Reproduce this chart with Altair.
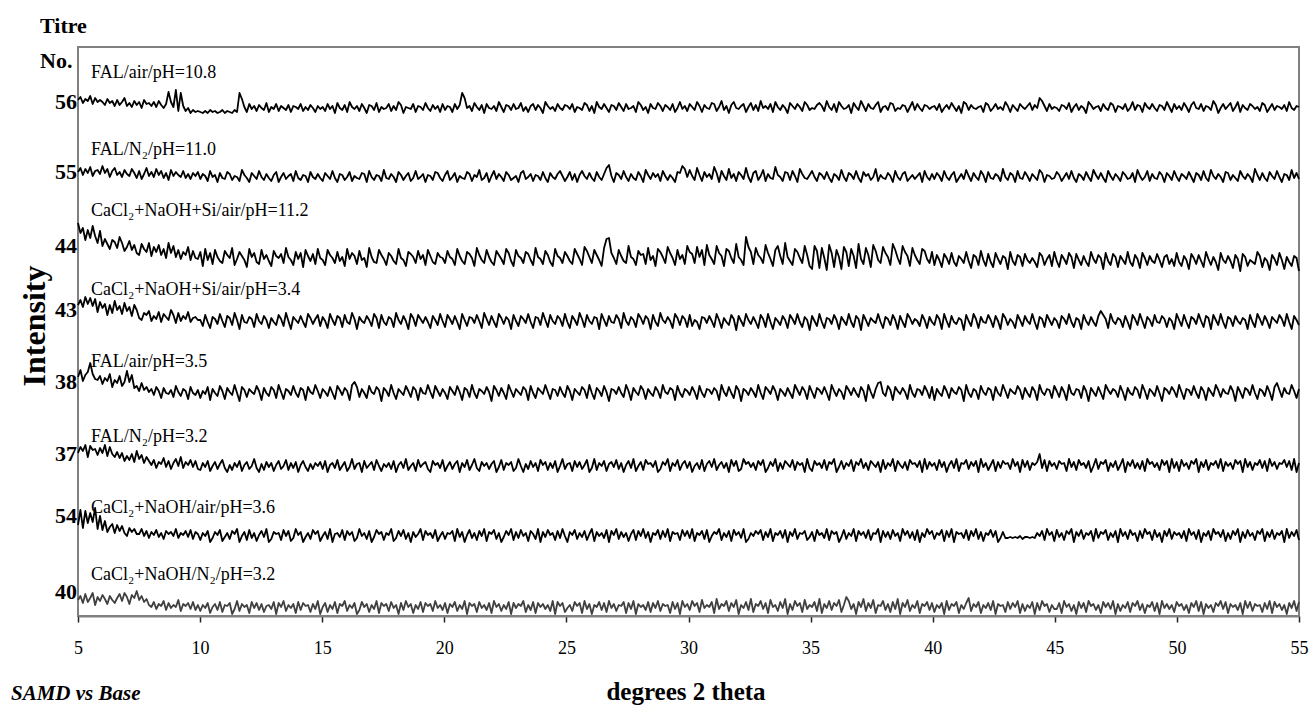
import altair as alt
import pandas as pd

# ---------------- data ----------------
titres = ["56", "55", "44", "43", "38", "37", "54", "40"]
conditions = [
    "FAL/air/pH=10.8",
    "FAL/N\u2082/pH=11.0",
    "CaCl\u2082+NaOH+Si/air/pH=11.2",
    "CaCl\u2082+NaOH+Si/air/pH=3.4",
    "FAL/air/pH=3.5",
    "FAL/N\u2082/pH=3.2",
    "CaCl\u2082+NaOH/air/pH=3.6",
    "CaCl\u2082+NaOH/N\u2082/pH=3.2",
]
# stacking offsets of each pattern (intensity units)
offsets = [498, 428, 344, 284, 213, 143, 73, 1]
# intensity level at which the titre number / condition text sit
titre_level = [514, 444, 370, 306, 234, 162, 100, 24]
condition_level = [543, 466, 405, 326, 254, 179, 108, 41]
line_colors = ["#000000"] * 7 + ["#404040"]

two_theta_start, two_theta_end = 5, 55

# counts above each pattern's offset, one character per 0.1 deg step (base-62 digits),
# one string per 5 degrees
DIGITS = "0123456789abcdefghijklmnopqrstuvwxyzABCDEFGHIJKLMNOPQRSTUVWXYZ"
counts_56 = [
    "ilfjhmekgigdjfhcidgkcfbhdgaiefcgbhdaeqgbs7pc7a5867",
    "6575867568576586pjb6e9c7da8f6b9e7ca8d6cb9e7b8da6c9",
    "b7e9c5fa8d6gb9c7ea5dc8f6b9ae7c8gd5ba9e6cb8fa7d9c6e",
    "8cb6e9dpkac7fb8d5ea9c7gb6dc8e9af7b6ce8da5gc9b7ea8d",
    "c9e6ba8fd7c5gb9ea6dc8fb7e9ac6gd8b5ea9fc7db8e6ag9c7",
    "eb8gc6da9fe7bh8c5dga9ce6bf8d7hac9e6gb8da5fc9eb7gd8",
    "a9dfc7hb8e6gc9ad5fb8hc7ea9dg6bc8fe7a9dc6bg8ea7dc9b",
    "c8e6ad9fb7c5ge8da9bc6fd7ae9b8gc6da7eb9cf8dakhc7e9b",
    "a7dc9f6be8ca5gd9bc7ea8fd6cb9e7ag8dc6fb9ea7dc8gb6e9",
    "c8fb6dga9e7cb8hd5ae9cf7bg6da8ec9b7fd6ae8cb9d7ga8cb",
]
counts_55 = [
    "gkdjflchiemfjbhkdgbiecjfah9ekcgbjdhaf8icgdbhae9fcg",
    "9ec7hbd6fa9ge8cb7ida6fc9hb8ea7dg6bf9ce7ha8dc6gb9ea",
    "7fc9ha6ed8bg7ca9fe6hb8dc7ia9eb6gd8cf7ah9be6dc8gfa7",
    "dh8bf6ca9ge7dbi8af6ch9eb7gd8ac6fh9be7dc8ga6fb9ehc7",
    "bg8e6dhc9fa7gb8eknc6fd9hb7ea8gc6id9fbe7hc8da6gfmjb",
    "ic8kd7gbe9lf6hc8jae7gd9kb6fh8ci7ea9ldb7gf8hc6jea9d",
    "hb7fd9ga6ec8ib7fd9ha6gce8bj7da9fc6hb8eg7ad9cf6hb8e",
    "9fc7hb8dg6ae9ic7fb8hd6ga9ec7jb8fd6ha9gc7eb8if6dc9a",
    "gd7bf9ha6ec8gb7id9fa6hc8eb7gd9af6ic8bh7ea9gd6fc8hb",
    "7ec9gb6fd8ha7ic9eb6gf8da7hc9eb6jd8fa7gc9hb6ed8iaf9",
]
counts_44 = [
    "NDIwGyKAtFqxsnwuoztlpvmrjhsnktgpkrhnetjqfmdkhpcled",
    "k6ncj8mfb9lheo7dkgc5nfja8mdhb6lgei9ofc7kdj5mgbi8ne",
    "c7mhe9kbf6ndjg8lce5ofa9mhd7jgb8nec6kif9ldh7mga8jfe",
    "9lfd7ngb8kie6ohc9mfa7lhd8njb6mge9kic7ofd8lha6nge9k",
    "gb8nid7plf9mhc6oxyje8mgb9qfd7lhi8ocg6nkf9pje7mdh8q",
    "ki9pfm7rhd8qjg6nle9sfc7zpk8ohe9rjd6mqg8tfb7nke9qh6",
    "3ql4oe2rj5mf3pk6ng4sd8oh5rlc9pjf7sme8qkg6ohc8nld9k",
    "7hc5ie8ja6gd9kb4hf7lc6ia5jd8ge3kb7hf6ic9ea5jg7dh6k",
    "b5hd8jf4ic7ga6kd9he3jb7if5gc8ka6hd4je7gb9ic5fh8d6j",
    "a6gc3ie8hb5kd7fa2jc9gb4hd1if6ca8kg5eb2hd7jc3fa6ge1",
]
counts_43 = [
    "rwpzsyqxkuoshrjvmqitlpgrmecjhlbgdkaifcmh9jbgdkaefc",
    "c6ha4fd8ib5ge7jc3ha9fd5ib8gc4ea7hd6jb3fc9ga5ie8dh6",
    "fb4ic7ge5ha8jd3fb9gc6ie4ha7fd5jc8gb3ie6hd9fa4gc7ib",
    "5hd8ga3ic6fe9hb4jd7ga5ie8fc3hb6gd9ia4fe7jc5hb8gd6i",
    "a4gc7jd5hb8fe3ic6ga9hd4jb7fc5ie8gd3ha6jc9fb4ie7gd5",
    "h6ca3fe9gb5ic4ea7hd2gb6ic8fa4hd5ia3eb7gc4hd8ia5fc2",
    "gb6ia4ed8hc3fb7ia5gd2hc6eb9ia4fd7hc3ga5ie8db6hc4fa",
    "7hd3ib5ga8ec2hb6id4fa9hc5gb3ie7da4hc6gb8ia3fd5hc7e",
    "b4gd8ia5ec3hb7fa6glhd4ib8ec5ga3hd7ib4fc6ha9gd5eb3i",
    "c6ha4fd8ib5ge3hc7ia4fd6gb8ec3ha5id7gb4fc9hd6ia3gc7",
]
counts_38 = [
    "qxmsvEtonrjpmtgnkrhlwlsfhckdgbe8gc5fa9d6hb7ec4ga8d",
    "5c9g3ea7hc4fb8ia2gd6eb9hc3fa7gd5ib4ec8ha6fd3gb9ic5",
    "eb7ga4hd8fc3ilg6ea5hb9gd2fc7ia4eb8hc6gd3fa9ib5hc7e",
    "a4gc8hb3fd6ia5ec9gb2hd7fa4ic6eb8gd3ha5fc9ib4ed7ga6",
    "hc3eb8gd5ia4fc7hb2ed9ga6ic3fb8hd4ea7gc5ib9fd3ha6ec",
    "8gb4ha6ed9fc3ib7ga5hd2ec8fb6ia4gd9hc3eb7fa5id8gc4h",
    "b5fd9ga3ic7eb4hd8fa6gc2ib5ekla7hd3gc9fb4ia6ed8hc5g",
    "3ea7hc5fb9gd2ia6ec4hb8fd3ga7ic5eb9hd4fa6gc3ib8ed5h",
    "c6gb3ia8ed5hc2fb7ga4id9ec6hb3fa8gd5ic4eb7ha2fd9gc6",
    "ib4ed8ha5gc3fb7id6ea9hc2gb5fd8ia4ec7hb3gkd6fa9ic5e",
]
counts_37 = [
    "kqmsgrnoipkshqjglfkchdjbmeiagc8d5b9f6c4ae7g5b8d6c4",
    "3a6c27b49d5183a6c28b47e5193b6a28c47d3a5b18c6294a7b",
    "4c18a5d37b26e49a1c58b3d7296a4c18b5e37a2d69b41c8a5d",
    "27b49c1a6d38e52b7a49c16d3a8b25e7194c6a2d8b3a5c17e4",
    "9a2c6b48d15e3a7c29b6d4a18c5e27b3d9a6c14b8e2a7d39c5",
    "b17a4d29c6e38b5a1d7c24e9b6a3c8d15b7e2a4c96d3b8a1e5",
    "2c8a5d3b9e16c4a7d2b8e5a3c96b1d4a7e2c85b3d9a6c1e4b7",
    "a3d6b18c5e2a9d4b7c1e6a38d2b5c9a4e7b1d6c3a8bj5d2c7a",
    "4c9a2e6b3d8a5c17e4b9d2a6c38e1b7d5a4c2e9b6a3d8c1e5b",
    "2d7a4c9e1b6d3a8c5e2b7a4d9c1e6b3a8d5c2e7b4a9d6c3e1a",
]
counts_54 = [
    "ixfwkulzerdmbgjaicha7fbe99e7c5b8d6a4c9b7e5a8c6d4b9",
    "3a7c15b8d26a4c9e17b3d5a28c6e14b9a3d7c25e8b16a4d9c2",
    "7b4e19a6d3c8b25e7a4c16d9b3a8e25c7d4a1b69e3c8a5d27b",
    "4a9c2e6b18d5a3c7e2b9d4a16c8e3b5d7a2c94e1b6d8a3c5e7",
    "1b8d4a6c39e2b7a5d1c8e4b6a29d3c7e5b1a8d4c6e2b9a3d7c",
    "5e2a8c4d17b9e3a6c2d8b5e14a7c9d3b6e2a8c5d1b7e4a9c36",
    "b2d8a5e3c9b16d4a7e2c8b5d3a9e1c6b4d7a2e8c5b3d1a6e9c",
    "4a8d2c6e1b9a5d3c7e4b2a8d6c15b5565657466565a7c3e8b2",
    "d6a3c9e1b7d4a8c2e5b9d3a6c1e7b4d8a2c5e9b3d6a1c7e4b8",
    "a5c2e8b4d1a7c3e9b6d2a4c8e1b5d7a3c9e2b6d4a8c1e5b7d3",
]
counts_40 = [
    "fjcldhmaiekgbjfchlemibkhofjdga8d6b9e5c7a8f4b9c6d5a",
    "4a7c28b5d3a9c16e4b8a2d7c5b39a6d1c8e4a7b2d5c9a3b6e1",
    "8c3a6d2b9e4a7c15d8b3a6e2c9b4d7a1c5e8b2a6d3c9b4e7a5",
    "c2b8d4a6e1c9b3d7a5c2e8b4a6d1c7b9e3a5d2c8b6a4e1d9c3",
    "7a4d9c2e6b1a8d5c3e7b4a9d2c6e1b8a5d3c7e4b9a2d6c1e8b",
    "5e9c3f7a8d2g6b9e4c8f1a7d5g3b9e6c2f8a4d7g1b5e9c3f6a",
    "8d4g2b7e5c9f3aie6b1d8g4c7f2a9e5b3d6g1c8f4a7e2b9d5c",
    "3a7c1e5b9d2a6ch4b8d2a7c5e1b9a3d6c8e2b4a7d1c5e9b3a6",
    "6c2e8b4a1d7c3e9b5a2d8c6e1b4a7d3c9e5b2a8d4c1e7b6a3d",
    "9b5a2c8e4d1b7a3c9e6d2b8a5c1e7d4b9a3c6e2d8b5a1c7e4d",
]
all_counts = [counts_56, counts_55, counts_44, counts_43, counts_38, counts_37, counts_54, counts_40]

# ---------------- tables ----------------
rows = []
for titre, off, chunks in zip(titres, offsets, all_counts):
    vals = [DIGITS.index(c) for c in "".join(chunks)]
    n = len(vals)
    for i, v in enumerate(vals):
        tt = two_theta_start + (two_theta_end - two_theta_start) * i / (n - 1)
        rows.append({"theta": tt, "intensity": off + v, "titre": titre})
df = pd.DataFrame(rows)

labels = pd.DataFrame({
    "titre": titres,
    "condition": conditions,
    "tl": titre_level,
    "cl": condition_level,
})

FONT = "Liberation Serif"
W, H = 1221, 569
xscale = alt.Scale(domain=[two_theta_start, two_theta_end], nice=False, zero=False)
yscale = alt.Scale(domain=[0, H], nice=False, zero=False)

lines = alt.Chart(df).mark_line(strokeWidth=1.8, strokeJoin="round").encode(
    x=alt.X("theta:Q", scale=xscale,
            axis=alt.Axis(values=list(range(5, 56, 5)), title=None, grid=False,
                          labelFont=FONT, labelFontSize=18, labelColor="black",
                          labelPadding=17, labelFlush=False, labelOverlap=False,
                          tickSize=6, tickColor="#222222", tickWidth=1.5,
                          domainColor="#808080", domainWidth=2)),
    y=alt.Y("intensity:Q", scale=yscale, axis=None),
    color=alt.Color("titre:N", scale=alt.Scale(domain=titres, range=line_colors), legend=None),
    detail="titre:N",
)

numbers = alt.Chart(labels).mark_text(
    align="right", baseline="middle", font=FONT, fontSize=22, fontWeight="bold", color="black"
).encode(x=alt.value(-1), y=alt.Y("tl:Q", scale=yscale), text="titre:N")

conds = alt.Chart(labels).mark_text(
    align="left", baseline="middle", font=FONT, fontSize=18, color="black"
).encode(x=alt.value(13), y=alt.Y("cl:Q", scale=yscale), text="condition:N")


def note(txt, x, y, **kw):
    return alt.Chart(pd.DataFrame({"t": [txt]})).mark_text(
        font=FONT, color="black", **kw
    ).encode(x=alt.value(x), y=alt.value(y), text="t:N")


titre_t = note("Titre", -38, -21, align="left", baseline="middle", fontSize=22, fontWeight="bold")
no_t = note("No.", -38, 14, align="left", baseline="middle", fontSize=22, fontWeight="bold")
inten = note("Intensity", -43, 279, align="center", baseline="middle", fontSize=32,
             fontWeight="bold", angle=270)
xtitle = note("degrees 2 theta", 608, 645, align="center", baseline="middle", fontSize=25,
              fontWeight="bold")
samd = note("SAMD vs Base", -67, 647, align="left", baseline="middle", fontSize=21,
            fontWeight="bold", fontStyle="italic")

chart = alt.layer(lines, numbers, conds, titre_t, no_t, inten, xtitle, samd).properties(
    width=W, height=H,
    autosize=alt.AutoSizeParams(type="none"),
    padding={"left": 78, "top": 47, "right": 12, "bottom": 95},
    background="white",
).configure_view(stroke="#808080", strokeWidth=2)

chart.save("out.html", embed_options={"renderer": "svg", "actions": False})
